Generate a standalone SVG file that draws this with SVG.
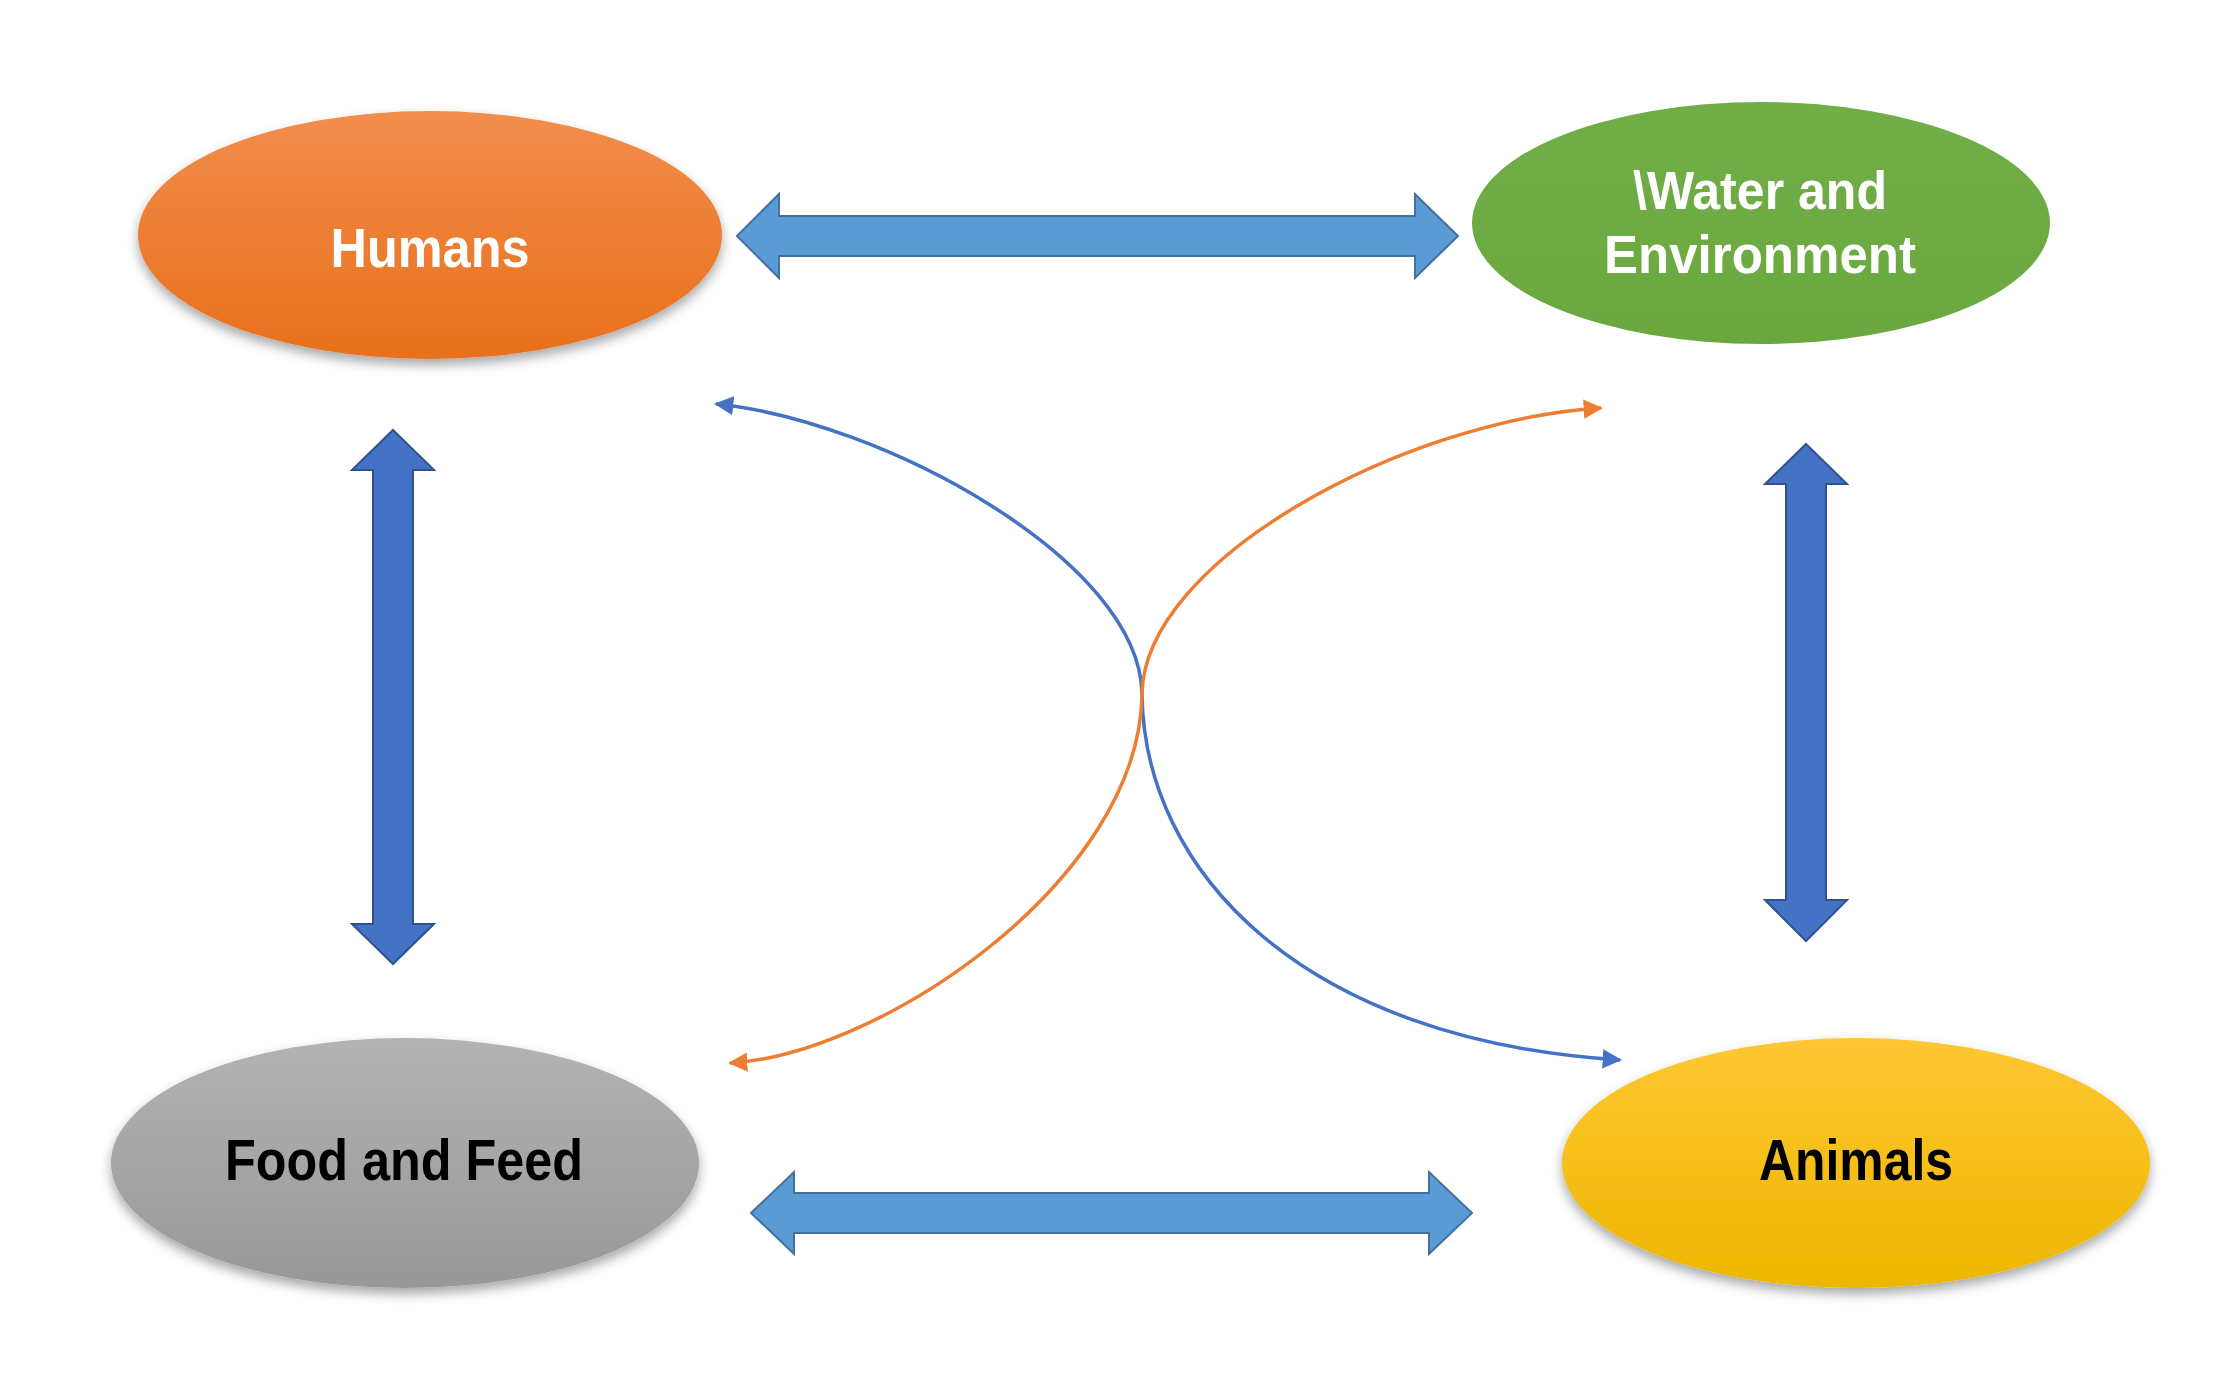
<svg xmlns="http://www.w3.org/2000/svg" width="2230" height="1388" viewBox="0 0 2230 1388">
<defs>
<linearGradient id="gOrange" x1="0" y1="0" x2="0" y2="1"><stop offset="0" stop-color="#F28D4C"/><stop offset="1" stop-color="#E8701B"/></linearGradient>
<linearGradient id="gGreen" x1="0" y1="0" x2="0" y2="1"><stop offset="0" stop-color="#72AE48"/><stop offset="1" stop-color="#6AA83F"/></linearGradient>
<linearGradient id="gGray" x1="0" y1="0" x2="0" y2="1"><stop offset="0" stop-color="#B3B3B3"/><stop offset="1" stop-color="#989898"/></linearGradient>
<linearGradient id="gYellow" x1="0" y1="0" x2="0" y2="1"><stop offset="0" stop-color="#FFC733"/><stop offset="1" stop-color="#EDB700"/></linearGradient>
<filter id="shadow" x="-10%" y="-10%" width="120%" height="130%"><feDropShadow dx="0" dy="6" stdDeviation="6" flood-color="#000" flood-opacity="0.35"/></filter>
<marker id="arrBlue" viewBox="0 0 10 10" refX="9" refY="5" markerWidth="5.5" markerHeight="5.5" orient="auto-start-reverse" markerUnits="strokeWidth"><path d="M0,0 L10,5 L0,10 z" fill="#4472C4"/></marker>
<marker id="arrOrange" viewBox="0 0 10 10" refX="9" refY="5" markerWidth="5.5" markerHeight="5.5" orient="auto-start-reverse" markerUnits="strokeWidth"><path d="M0,0 L10,5 L0,10 z" fill="#ED7D31"/></marker>
<style>
.lbl{font-family:"Liberation Sans",Arial,sans-serif;font-weight:bold;text-anchor:middle}
.white{fill:#FFFFFF}
.black{fill:#000000}
.harr{fill:#5B9BD5;stroke:#41719C;stroke-width:2}
.varr{fill:#4472C4;stroke:#2F528F;stroke-width:2}
.curve{fill:none;stroke-width:3.5}
</style>
</defs>
<rect width="2230" height="1388" fill="#FFFFFF"/>
<g id="connectors">
<polygon class="harr" points="737,236 779,194 779,216 1415,216 1415,194 1458,236 1415,278 1415,256 779,256 779,278"/>
<polygon class="harr" points="751,1213 794,1172 794,1193 1429,1193 1429,1172 1472,1213 1429,1254 1429,1233 794,1233 794,1254"/>
<polygon class="varr" points="393,430 434,470 413,470 413,924 434,924 393,964 352,924 373,924 373,470 352,470"/>
<polygon class="varr" points="1806,444 1847,484 1826,484 1826,900 1847,900 1806,941 1765,900 1786,900 1786,484 1765,484"/>
<path class="curve" stroke="#4472C4" marker-start="url(#arrBlue)" marker-end="url(#arrBlue)" d="M716,404 C880,420 1140,560 1142,694 C1144,870 1300,1040 1620,1060"/>
<path class="curve" stroke="#ED7D31" marker-start="url(#arrOrange)" marker-end="url(#arrOrange)" d="M730,1063 C880,1055 1140,880 1142,694 C1144,560 1404,420 1601,408"/>
</g>
<g id="humans">
<ellipse cx="430" cy="235" rx="292" ry="124" fill="url(#gOrange)" filter="url(#shadow)"/>
<text class="lbl white" x="430" y="267" font-size="56" textLength="199" lengthAdjust="spacingAndGlyphs">Humans</text>
</g>
<g id="water-environment">
<ellipse cx="1761" cy="223" rx="289" ry="121" fill="url(#gGreen)"/>
<text class="lbl white" x="1760" y="209" font-size="54" textLength="254" lengthAdjust="spacingAndGlyphs">\Water and</text>
<text class="lbl white" x="1760" y="273" font-size="54" textLength="312" lengthAdjust="spacingAndGlyphs">Environment</text>
</g>
<g id="food-feed">
<ellipse cx="405" cy="1163" rx="294" ry="125" fill="url(#gGray)" filter="url(#shadow)"/>
<text class="lbl black" x="404" y="1180" font-size="58" textLength="358" lengthAdjust="spacingAndGlyphs">Food and Feed</text>
</g>
<g id="animals">
<ellipse cx="1856" cy="1163" rx="294" ry="125" fill="url(#gYellow)" filter="url(#shadow)"/>
<text class="lbl black" x="1856" y="1180" font-size="58" textLength="194" lengthAdjust="spacingAndGlyphs">Animals</text>
</g>
</svg>
